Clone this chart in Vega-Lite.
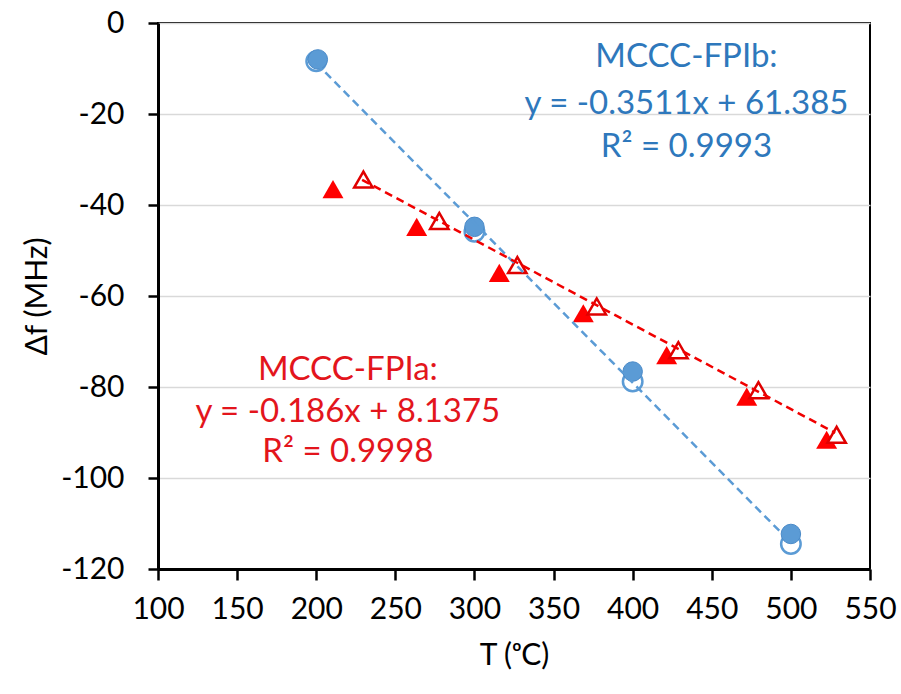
{
  "$schema": "https://vega.github.io/schema/vega-lite/v6.json",
  "width": 712,
  "height": 546,
  "autosize": "none",
  "padding": {"left": 158, "top": 23, "right": 31, "bottom": 125},
  "background": "white",
  "config": {
    "font": "Lato",
    "view": {"stroke": "black", "strokeWidth": 2},
    "axis": {
      "labelFont": "Lato",
      "labelFontSize": 30,
      "labelColor": "#000000",
      "titleFont": "Lato",
      "titleFontSize": 30,
      "titleFontWeight": "normal",
      "titleColor": "#000000",
      "domainColor": "#000000",
      "domainWidth": 3,
      "tickColor": "#000000",
      "tickWidth": 2.5,
      "tickSize": 11
    }
  },
  "datasets": {
    "pts": [
      {"T": 200, "df": -8.4, "series": "FPIb", "kind": "open"},
      {"T": 300, "df": -45.9, "series": "FPIb", "kind": "open"},
      {"T": 400, "df": -78.8, "series": "FPIb", "kind": "open"},
      {"T": 500, "df": -114.5, "series": "FPIb", "kind": "open"},
      {"T": 201, "df": -8.0, "series": "FPIb", "kind": "filled"},
      {"T": 300, "df": -44.8, "series": "FPIb", "kind": "filled"},
      {"T": 400, "df": -76.6, "series": "FPIb", "kind": "filled"},
      {"T": 500, "df": -112.3, "series": "FPIb", "kind": "filled"},
      {"T": 210.6, "df": -36.5, "series": "FPIa", "kind": "filled"},
      {"T": 263.5, "df": -44.8, "series": "FPIa", "kind": "filled"},
      {"T": 315.7, "df": -54.9, "series": "FPIa", "kind": "filled"},
      {"T": 368.8, "df": -63.8, "series": "FPIa", "kind": "filled"},
      {"T": 421.5, "df": -73.0, "series": "FPIa", "kind": "filled"},
      {"T": 472.1, "df": -82.1, "series": "FPIa", "kind": "filled"},
      {"T": 522.6, "df": -91.6, "series": "FPIa", "kind": "filled"},
      {"T": 229.8, "df": -34.4, "series": "FPIa", "kind": "open"},
      {"T": 277.8, "df": -43.5, "series": "FPIa", "kind": "open"},
      {"T": 327.1, "df": -53.2, "series": "FPIa", "kind": "open"},
      {"T": 377.3, "df": -62.3, "series": "FPIa", "kind": "open"},
      {"T": 428.9, "df": -71.9, "series": "FPIa", "kind": "open"},
      {"T": 479.5, "df": -80.7, "series": "FPIa", "kind": "open"},
      {"T": 528.9, "df": -90.5, "series": "FPIa", "kind": "open"}
    ],
    "fits": [
      {"T": 200, "df": -8.84, "series": "FPIb"},
      {"T": 500, "df": -114.17, "series": "FPIb"},
      {"T": 229, "df": -34.46, "series": "FPIa"},
      {"T": 528, "df": -90.07, "series": "FPIa"}
    ],
    "labels": [
      {"T": 434, "df": -7.5, "series": "FPIb", "text": "MCCC-FPIb:"},
      {"T": 434, "df": -17.8, "series": "FPIb", "text": "y = -0.3511x + 61.385"},
      {"T": 434, "df": -27.3, "series": "FPIb", "text": "R² = 0.9993"},
      {"T": 220, "df": -76.3, "series": "FPIa", "text": "MCCC-FPIa:"},
      {"T": 220, "df": -85.5, "series": "FPIa", "text": "y = -0.186x + 8.1375"},
      {"T": 220, "df": -94.3, "series": "FPIa", "text": "R² = 0.9998"}
    ]
  },
  "encoding": {
    "x": {
      "field": "T", "type": "quantitative",
      "scale": {"domain": [100, 550], "nice": false, "zero": false},
      "axis": {"title": "T (ᵒC)", "values": [100,150,200,250,300,350,400,450,500,550], "grid": false, "labelPadding": 14, "titlePadding": 16, "labelFlush": false}
    },
    "y": {
      "field": "df", "type": "quantitative",
      "scale": {"domain": [-120, 0], "nice": false, "zero": false},
      "axis": {"title": "Δf (MHz)", "values": [-120,-100,-80,-60,-40,-20,0], "labelExpr": "toString(datum.value)", "grid": true, "gridColor": "#D9D9D9", "gridWidth": 1.5, "labelPadding": 24, "titlePadding": 8, "tickSize": 10, "labelFlush": false}
    }
  },
  "layer": [
    {
      "data": {"name": "pts"},
      "transform": [{"filter": "datum.series == 'FPIb' && datum.kind == 'open'"}],
      "mark": {"type": "point", "shape": "circle", "filled": true, "fill": "white", "stroke": "#5B9BD5", "strokeWidth": 2.5, "size": 380, "opacity": 1}
    },
    {
      "data": {"name": "pts"},
      "transform": [{"filter": "datum.series == 'FPIb' && datum.kind == 'filled'"}],
      "mark": {"type": "point", "shape": "circle", "filled": true, "fill": "#5B9BD5", "stroke": "#4A8AC8", "strokeWidth": 1, "size": 380, "opacity": 1}
    },
    {
      "data": {"name": "pts"},
      "transform": [{"filter": "datum.series == 'FPIa' && datum.kind == 'filled'"}],
      "mark": {"type": "point", "shape": "triangle-up", "filled": true, "fill": "#FF0000", "size": 440, "opacity": 1}
    },
    {
      "data": {"name": "pts"},
      "transform": [{"filter": "datum.series == 'FPIa' && datum.kind == 'open'"}],
      "mark": {"type": "point", "shape": "triangle-up", "filled": true, "fill": "white", "stroke": "#E00000", "strokeWidth": 2.5, "size": 340, "opacity": 1}
    },
    {
      "data": {"name": "fits"},
      "transform": [{"filter": "datum.series == 'FPIb'"}],
      "mark": {"type": "line", "color": "#5B9BD5", "strokeWidth": 2.5, "strokeDash": [8, 5]}
    },
    {
      "data": {"name": "fits"},
      "transform": [{"filter": "datum.series == 'FPIa'"}],
      "mark": {"type": "line", "color": "#F00000", "strokeWidth": 2.5, "strokeDash": [8, 5]}
    },
    {
      "data": {"name": "labels"},
      "mark": {"type": "text", "font": "Lato", "fontSize": 33, "align": "center", "baseline": "middle"},
      "encoding": {
        "text": {"field": "text"},
        "color": {"field": "series", "type": "nominal", "scale": {"domain": ["FPIa", "FPIb"], "range": ["#E3151C", "#2E78BC"]}, "legend": null}
      }
    }
  ]
}
